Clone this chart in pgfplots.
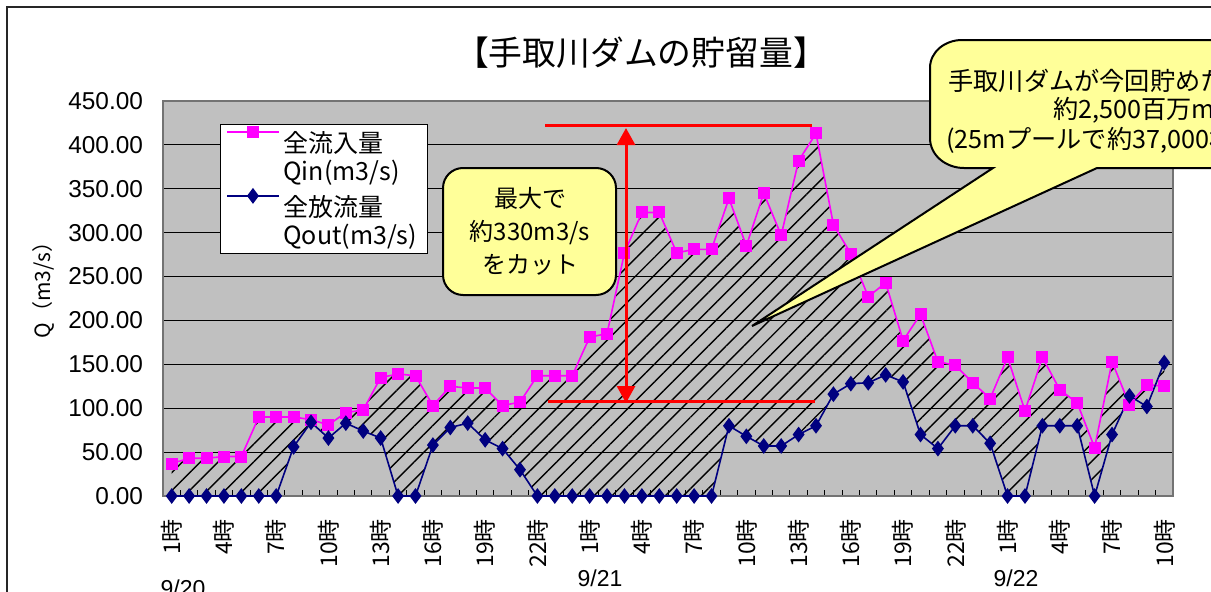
\documentclass[border=0pt]{standalone}
\usepackage{fontspec}
\setmainfont{Liberation Sans}
\newfontfamily\jp{Noto Sans CJK JP}
\usepackage{pgfplots}
\pgfplotsset{compat=1.18}
\usepackage{pgfplotstable}
\usepgfplotslibrary{fillbetween}
\usetikzlibrary{patterns.meta,arrows.meta}
\definecolor{silver}{RGB}{192,192,192}
\definecolor{qinc}{RGB}{255,0,255}
\definecolor{qoutc}{RGB}{0,0,128}
\definecolor{callout}{RGB}{255,255,153}

\pgfplotstableread{
h qin qout
1 37 0
2 43 0
3 43 0
4 45 0
5 45 0
6 90 0
7 90 0
8 90 56
9 87 84
10 81 66
11 95 83
12 98 74
13 135 66
14 139 0
15 137 0
16 103 58
17 125 78
18 123 83
19 123 64
20 103 54
21 107 30
22 137 0
23 137 0
24 137 0
25 181 0
26 185 0
27 277 0
28 323 0
29 323 0
30 277 0
31 281 0
32 281 0
33 339 80
34 285 68
35 345 57
36 297 57
37 382 70
38 413 80
39 309 116
40 276 128
41 227 129
42 243 138
43 177 130
44 207 70
45 153 54
46 149 80
47 129 80
48 111 60
49 158 0
50 97 0
51 158 80
52 121 80
53 106 80
54 55 0
55 153 70
56 104 114
57 127 102
58 125 152
}\dam

\begin{document}
\begin{tikzpicture}
\begin{axis}[
  at={(81.5pt,47.5pt)}, anchor=south west,
  scale only axis, width=505pt, height=197.5pt,
  xmin=0.5, xmax=58.5, ymin=0, ymax=450,
  clip=false,
  axis background/.style={fill=silver},
  axis line style={draw=black!55, line width=0.6pt},
  ymajorgrids=true,
  major grid style={black, line width=0.5pt},
  ytick={0,50,...,450},
  xtick={1,4,...,58},
  xticklabels={1時,4時,7時,10時,13時,16時,19時,22時,1時,4時,7時,10時,13時,16時,19時,22時,1時,4時,7時,10時},
  minor xtick={0.5,1.5,...,58.5},
  tick align=inside,
  xtick pos=bottom, ytick pos=left,
  major tick length=0pt,
  minor tick length=3pt,
  minor tick style={black, line width=0.5pt},
  xticklabel style={rotate=90, anchor=east, font=\jp\fontsize{11.5}{13}\selectfont},
  xticklabel shift=8pt,
  /pgf/number format/assume math mode=true,
  yticklabel style={font=\fontsize{12.2}{14}\selectfont, /pgf/number format/fixed, /pgf/number format/fixed zerofill, /pgf/number format/precision=2},
  yticklabel shift=6.5pt,
  legend cell align=left,
  legend image code/.code={\draw[mark repeat=2,mark phase=2,yshift=12.75pt,#1] plot coordinates {(0cm,0cm) (0.45cm,0cm) (0.9cm,0cm)};},
  legend style={at={(0.0564,0.942)}, anchor=north west, draw=black, fill=white, line width=0.6pt,
    font=\jp\fontsize{12.5}{12.75}\selectfont, row sep=1pt, inner xsep=3pt, inner ysep=1pt},
]
\addplot[name path=qin, draw=none, forget plot] table[x=h,y=qin]{\dam};
\addplot[name path=qout, draw=none, forget plot] table[x=h,y=qout]{\dam};
\addplot[draw=none, pattern={Lines[angle=45,distance=6.3pt,line width=0.7pt]}, pattern color=black, forget plot] fill between[of=qin and qout];
\addplot[qinc, line width=0.8pt, mark=square*, mark size=2.6pt, mark options={fill=qinc, draw=qinc}] table[x=h,y=qin]{\dam};
\addlegendentry{{\begin{tabular}[b]{@{}l@{}}全流入量\\Qin(m3/s)\end{tabular}}}
\addplot[qoutc, line width=0.8pt, mark=diamond*, mark size=3.3pt, mark options={fill=qoutc, draw=qoutc}] table[x=h,y=qout]{\dam};
\addlegendentry{{\begin{tabular}[b]{@{}l@{}}全放流量\\Qout(m3/s)\end{tabular}}}
\end{axis}
\begin{scope}
\clip (0,0) rectangle (605.5pt,295.5pt);
\begin{scope}[x=0.5pt,y=-0.5pt,shift={(0pt,295.5pt)}]
  % outer frame
  \draw[line width=1.1pt, black!85] (7,620) -- (7,7) -- (1260,7);
  % title
  \node[font=\jp\fontsize{16.9}{18}\selectfont, inner sep=0pt] at (641,53) {【手取川ダムの貯留量】};
  % y label
  \node[font=\jp\fontsize{10.5}{12}\selectfont, rotate=90, inner sep=0pt] at (43,285) {Q（m3/s）};
  % dates
  \node[font=\fontsize{11.5}{13}\selectfont, inner sep=0pt] at (183,588) {9/20};
  \node[font=\fontsize{11.5}{13}\selectfont, inner sep=0pt] at (600,578) {9/21};
  \node[font=\fontsize{11.5}{13}\selectfont, inner sep=0pt] at (1016,578) {9/22};
  % red annotation
  \draw[red, line width=1.5pt] (545,125) -- (812,125);
  \draw[red, line width=1.5pt] (548,401) -- (815,401);
  \draw[red, line width=1.5pt, {Triangle[length=8.5pt,width=9pt]}-{Triangle[length=8.5pt,width=9pt]}] (626,403) -- (626,128);
  % callout 1
  \draw[fill=callout, line width=1pt, rounded corners=10pt] (443,168) rectangle (616,295);
  \node[font=\jp\fontsize{12}{16.5}\selectfont, align=center, inner sep=0pt] at (530,231) {最大で\\約330m3/s\\をカット};
  % callout 2
  \draw[fill=callout, line width=1pt] (993,168) -- (752,326) -- (1097,168) -- (1260,168) -- (1260,40) -- (962,40)
     to[out=180,in=90] (930,68) -- (930,138) to[out=-90,in=180] (964,168) -- cycle;
  \node[font=\jp\fontsize{12.6}{14}\selectfont, anchor=west, inner sep=0pt] at (948,81) {手取川ダムが今回貯めた水の量は};
  \node[font=\jp\fontsize{12.6}{14}\selectfont, anchor=west, inner sep=0pt] at (1053,110) {約2,500百万m3};
  \node[font=\jp\fontsize{12.6}{14}\selectfont, anchor=west, inner sep=0pt] at (946,140) {(25mプールで約37,000杯分)};
\end{scope}
\end{scope}
\pgfresetboundingbox
\useasboundingbox (0,0) rectangle (605.5pt,295.5pt);
\end{tikzpicture}
\end{document}
